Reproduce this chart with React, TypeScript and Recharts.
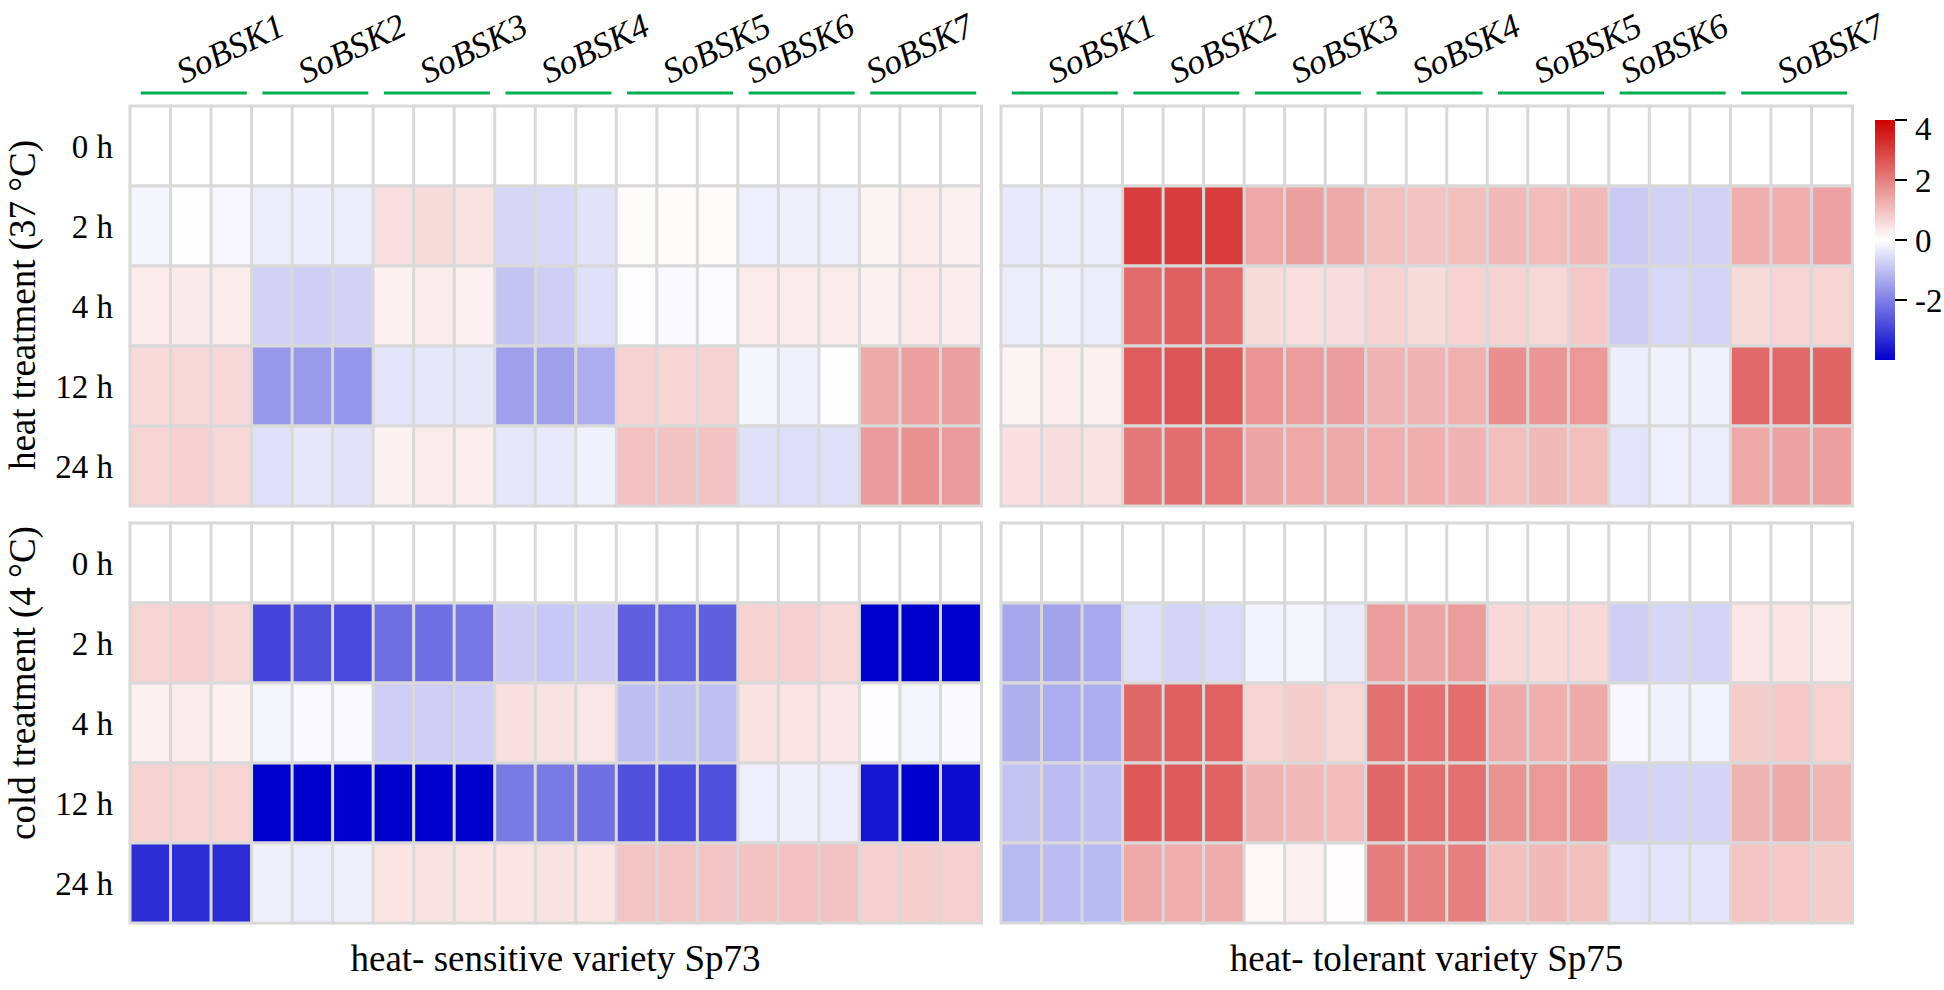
import React from "react";
import { BarChart, Bar, Cell, XAxis, YAxis } from "recharts";

// genes, replicates and sampling times
const genes = ["SoBSK1", "SoBSK2", "SoBSK3", "SoBSK4", "SoBSK5", "SoBSK6", "SoBSK7"];
const reps = [1, 2, 3];
const times = ["0 h", "2 h", "4 h", "12 h", "24 h"];
const colorbarTicks = [-4, -2, 0, 2, 4];

// log2 fold change, one row per time point, 21 columns (7 genes x 3 reps)
const zeros = Array(21).fill(0);

const heatSp73 = [
  zeros,
  [-0.15, -0.02, -0.12, -0.3, -0.28, -0.3, 0.5, 0.55, 0.45, -0.65, -0.62, -0.45, 0.07, 0.06, 0.06, -0.27, -0.23, -0.25, 0.15, 0.3, 0.22],
  [0.32, 0.33, 0.3, -0.72, -0.75, -0.72, 0.22, 0.3, 0.22, -0.92, -0.75, -0.48, -0.03, -0.1, -0.06, 0.32, 0.32, 0.3, 0.22, 0.35, 0.28],
  [0.58, 0.62, 0.62, -1.62, -1.58, -1.65, -0.42, -0.38, -0.38, -1.5, -1.5, -1.3, 0.7, 0.66, 0.7, -0.14, -0.22, -0.02, 1.35, 1.5, 1.5],
  [0.66, 0.74, 0.63, -0.48, -0.38, -0.45, 0.2, 0.3, 0.26, -0.38, -0.34, -0.2, 0.97, 0.94, 0.94, -0.47, -0.5, -0.48, 1.57, 1.72, 1.57],
];

const heatSp75 = [
  zeros,
  [-0.35, -0.3, -0.3, 3.05, 3.05, 3.05, 1.37, 1.5, 1.35, 1.0, 0.95, 1.0, 1.1, 1.05, 1.1, -0.85, -0.7, -0.7, 1.25, 1.25, 1.45],
  [-0.3, -0.22, -0.3, 2.3, 2.5, 2.3, 0.55, 0.5, 0.52, 0.7, 0.55, 0.7, 0.7, 0.62, 0.86, -0.8, -0.62, -0.68, 0.55, 0.67, 0.67],
  [0.15, 0.27, 0.23, 2.55, 2.65, 2.6, 1.65, 1.52, 1.52, 1.17, 1.17, 1.24, 1.75, 1.65, 1.62, -0.28, -0.2, -0.2, 2.35, 2.35, 2.4],
  [0.47, 0.52, 0.46, 2.1, 2.27, 2.15, 1.41, 1.36, 1.33, 1.28, 1.25, 1.17, 1.02, 1.08, 1.02, -0.42, -0.27, -0.3, 1.37, 1.46, 1.5],
];

const coldSp73 = [
  zeros,
  [0.67, 0.74, 0.63, -2.93, -2.75, -2.82, -2.27, -2.25, -2.15, -0.8, -0.86, -0.8, -2.5, -2.43, -2.5, 0.7, 0.74, 0.63, -4, -4, -4],
  [0.23, 0.3, 0.23, -0.16, -0.08, -0.1, -0.77, -0.78, -0.74, 0.47, 0.45, 0.39, -1.02, -0.95, -1.0, 0.45, 0.43, 0.36, -0.03, -0.16, -0.1],
  [0.7, 0.67, 0.67, -4, -4, -4, -4, -4, -4, -2.1, -2.1, -2.25, -2.75, -2.83, -2.75, -0.27, -0.23, -0.3, -3.65, -4, -3.8],
  [-3.3, -3.3, -3.3, -0.23, -0.3, -0.23, 0.43, 0.45, 0.43, 0.43, 0.45, 0.43, 0.92, 0.92, 0.92, 0.95, 0.98, 0.95, 0.73, 0.77, 0.73],
];

const coldSp75 = [
  zeros,
  [-1.4, -1.43, -1.37, -0.52, -0.67, -0.58, -0.19, -0.16, -0.33, 1.55, 1.42, 1.53, 0.63, 0.58, 0.63, -0.77, -0.64, -0.67, 0.39, 0.43, 0.3],
  [-1.24, -1.3, -1.27, 2.37, 2.5, 2.48, 0.66, 0.8, 0.63, 2.22, 2.22, 2.27, 1.33, 1.25, 1.33, -0.13, -0.2, -0.19, 0.78, 0.86, 0.7],
  [-0.92, -1.05, -1.0, 2.62, 2.6, 2.46, 1.18, 1.1, 1.05, 2.37, 2.27, 2.24, 1.7, 1.62, 1.65, -0.7, -0.67, -0.67, 1.2, 1.33, 1.15],
  [-1.1, -1.05, -1.1, 1.33, 1.29, 1.3, 0.1, 0.23, 0.05, 2.02, 1.96, 2.0, 1.02, 1.1, 1.0, -0.42, -0.42, -0.42, 0.93, 0.86, 0.8],
];

const FONT = "'Liberation Serif', 'Times New Roman', serif";
const GRID = "#d9d9d9";

// hand-placed label nudges in the original figure (px, per gene)
const leftNudge = [0, 0, 0, 0, 0, -38, -40];
const rightNudge = [0, 0, 0, 0, 0, -35, 0];

// blue - white - red, clamped at +-4
function colorFor(v: number) {
  const t = Math.min(Math.abs(v) / 4, 1);
  const hi = Math.round(255 - 51 * t);
  const lo = Math.round(255 * (1 - t));
  return v >= 0 ? `rgb(${hi},${lo},${lo})` : `rgb(${lo},${lo},${hi})`;
}

// each column is a stack of 5 unit cells, one per time point
const columns = genes.flatMap((g) =>
  reps.map((r) => {
    const row: any = { key: `${g}-${r}`, gene: g };
    times.forEach((_, j) => (row[`t${j}`] = 1));
    return row;
  })
);

// gene name + green bar, drawn once per gene on its middle replicate
function GeneTick(props: any) {
  const { x, y, index, nudge } = props;
  if (index % 3 !== 1) return <g />;
  const g = Math.floor(index / 3);
  return (
    <g>
      <line x1={x - 50} x2={x + 56} y1={y - 13} y2={y - 13} stroke="#00b050" strokeWidth={3} />
      <g transform={`translate(${x - 7 + nudge[g]} ${y - 22}) rotate(-26)`}>
        <text x={0} y={0} fill="#000" style={{ fontFamily: FONT, fontStyle: "italic", fontSize: 35 }}>
          {genes[g]}
        </text>
      </g>
    </g>
  );
}

function Heatmap({ values, left, top, showRows, showGenes, nudge, bottomTitle }: any) {
  const axisW = showRows ? 128 : 0;
  const topH = showGenes ? 104 : 0;
  const bottomH = bottomTitle ? 60 : 0;
  const width = axisW + 851 + 4;
  const height = topH + bottomH + 400 + 4;
  return (
    <div style={{ position: "absolute", left: left - axisW - 2, top: top - topH - 2 }}>
      <BarChart
        width={width}
        height={height}
        data={columns}
        margin={{ top: 2, right: 2, bottom: 2, left: 2 }}
        barCategoryGap={0}
        barGap={0}
      >
        {showGenes ? (
          <XAxis
            dataKey="key"
            orientation="top"
            height={topH}
            interval={0}
            tickSize={0}
            tickMargin={0}
            axisLine={false}
            tickLine={false}
            tick={(p: any) => <GeneTick {...p} nudge={nudge} />}
          />
        ) : (
          <XAxis
            dataKey="key"
            orientation="bottom"
            height={bottomH}
            tick={false}
            axisLine={false}
            tickLine={false}
            label={{
              value: bottomTitle,
              position: "insideBottom",
              offset: 12,
              fill: "#000",
              fontSize: 37,
              fontFamily: FONT,
            }}
          />
        )}
        <YAxis
          type="number"
          domain={[0, 5]}
          reversed
          hide={!showRows}
          width={axisW}
          ticks={[0.5, 1.5, 2.5, 3.5, 4.5]}
          tickFormatter={(v: number) => times[Math.floor(v)]}
          tickSize={0}
          tickMargin={17}
          axisLine={false}
          tickLine={false}
          tick={{ fill: "#000", fontSize: 33, fontFamily: FONT }}
        />
        {times.map((t, j) => (
          <Bar
            key={t}
            dataKey={`t${j}`}
            stackId="cells"
            stroke={GRID}
            strokeWidth={3}
            isAnimationActive={false}
          >
            {columns.map((c, i) => (
              <Cell key={c.key} fill={colorFor(values[j][i])} />
            ))}
          </Bar>
        ))}
      </BarChart>
    </div>
  );
}

function ColorBar() {
  const data = [{ name: "scale", range: [-4, 4] }];
  return (
    <div style={{ position: "absolute", left: 1875, top: 110 }}>
      <BarChart width={69} height={260} data={data} margin={{ top: 10, right: 0, bottom: 10, left: 0 }} barCategoryGap={0}>
        <defs>
          <linearGradient id="fcGrad" x1="0" y1="0" x2="0" y2="1">
            <stop offset="0%" stopColor="#cc0000" />
            <stop offset="50%" stopColor="#ffffff" />
            <stop offset="100%" stopColor="#0000cc" />
          </linearGradient>
        </defs>
        <XAxis dataKey="name" hide />
        <YAxis
          type="number"
          orientation="right"
          domain={[-4, 4]}
          ticks={colorbarTicks}
          width={49}
          axisLine={false}
          tickSize={12}
          tickMargin={8}
          tickLine={{ stroke: "#000", strokeWidth: 2 }}
          tick={{ fill: "#000", fontSize: 33, fontFamily: FONT, textAnchor: "start" }}
        />
        <Bar dataKey="range" fill="url(#fcGrad)" isAnimationActive={false} />
      </BarChart>
    </div>
  );
}

function SideTitle({ text, cy }: { text: string; cy: number }) {
  return (
    <text x={35} y={cy} transform={`rotate(-90 35 ${cy})`} textAnchor="middle" fontFamily={FONT} fontSize={37} fill="#000">
      {text}
    </text>
  );
}

export default function App() {
  return (
    <div style={{ position: "absolute", left: 0, top: 0, width: 1944, height: 990, background: "#fff" }}>
      <style>{`.recharts-surface { overflow: visible; }`}</style>
      <svg width={60} height={990} style={{ position: "absolute", left: 0, top: 0 }}>
        <SideTitle text="heat treatment (37 °C)" cy={305} />
        <SideTitle text="cold treatment (4 °C)" cy={683} />
      </svg>
      <Heatmap values={heatSp73} left={130} top={106} showRows showGenes nudge={leftNudge} />
      <Heatmap values={heatSp75} left={1001} top={106} showGenes nudge={rightNudge} />
      <Heatmap values={coldSp73} left={130} top={523} showRows bottomTitle="heat- sensitive variety Sp73" />
      <Heatmap values={coldSp75} left={1001} top={523} bottomTitle="heat- tolerant variety Sp75" />
      <ColorBar />
    </div>
  );
}
